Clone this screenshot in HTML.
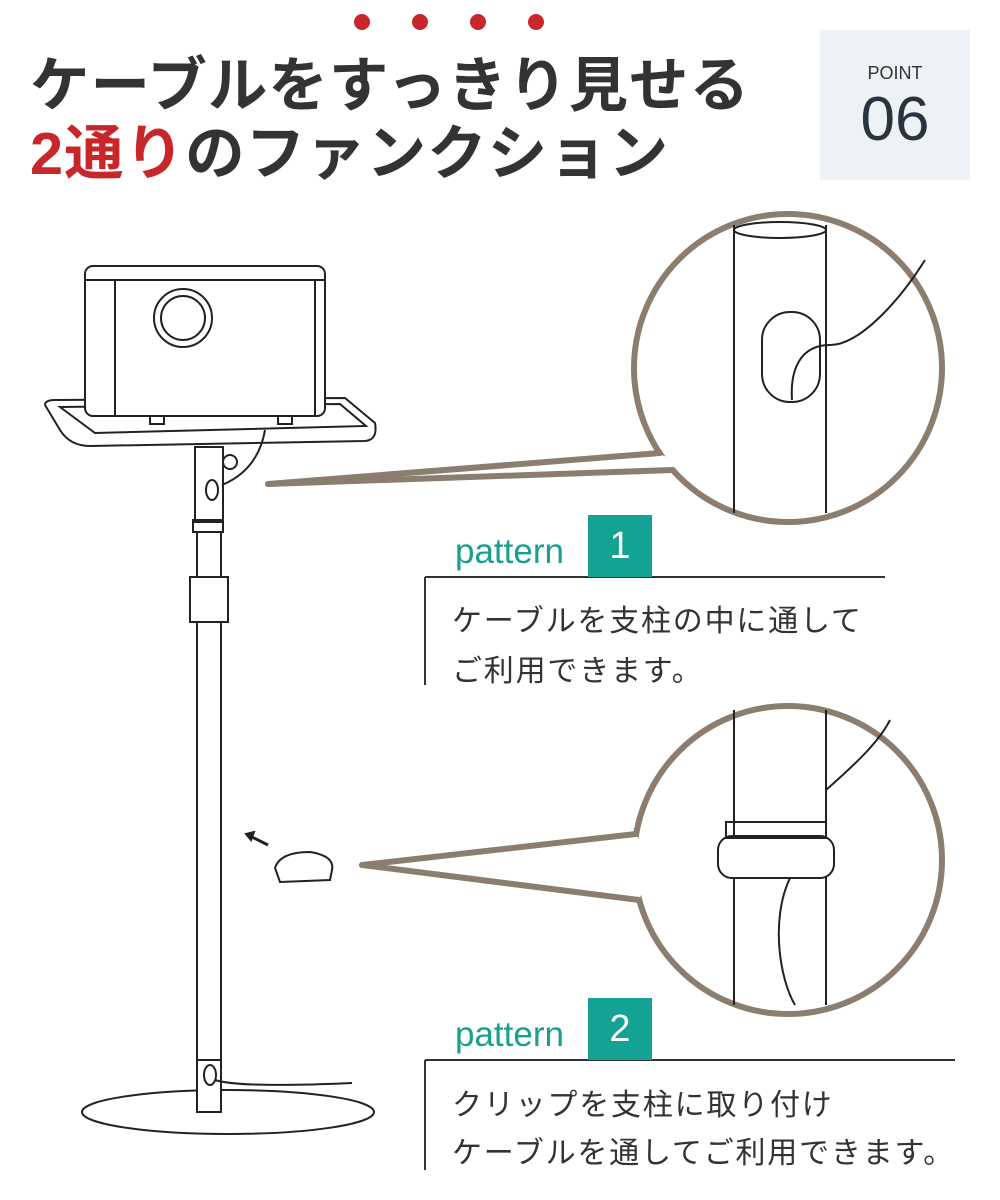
<!DOCTYPE html><html><head><meta charset="utf-8"><style>
body{margin:0;width:1000px;height:1200px;background:#fff;position:relative;overflow:hidden;font-family:"Liberation Sans","Noto Sans CJK JP",sans-serif}
.t{position:absolute;font-weight:bold;font-size:59.5px;color:#333;letter-spacing:1px;white-space:nowrap}
.p{position:absolute;color:#17a08f;font-size:35px}
.b{position:absolute;background:#13a294;color:#fff;font-size:38px;text-align:center;width:64px;height:62px;line-height:62px}
.x{position:absolute;font-size:30px;color:#333;white-space:nowrap;letter-spacing:1.8px}
</style></head><body>
<svg width="1000" height="1200" style="position:absolute;left:0;top:0">
<g fill="#c9262c"><circle cx="362" cy="22" r="8"/><circle cx="420" cy="22" r="8"/><circle cx="478" cy="22" r="8"/><circle cx="536" cy="22" r="8"/></g>
<rect x="820" y="30" width="150" height="150" fill="#eef1f5"/>
<g stroke="#8b7d6f" stroke-width="6" fill="#fff">
<circle cx="788" cy="368" r="154"/>
<circle cx="788" cy="860" r="154"/>
</g>
<g fill="#fff"><polygon points="268,484 659,454 680,462 672,470"/><polygon points="362,865 637,835 648,865 640,899"/></g>
<g stroke="#8b7d6f" stroke-width="6" stroke-linecap="round" fill="none">
<line x1="268" y1="484" x2="660" y2="453"/><line x1="268" y1="484" x2="673" y2="470"/>
<line x1="362" y1="865" x2="636" y2="834"/><line x1="362" y1="865" x2="639" y2="900"/>
</g>
<g fill="none" stroke="#222" stroke-width="2">
<line x1="734" y1="225" x2="734" y2="513"/><line x1="826" y1="225" x2="826" y2="513"/>
<ellipse cx="780" cy="230" rx="46" ry="8"/>
<rect x="762" y="312" width="58" height="90" rx="28"/>
<path d="M792 400 C790 370 800 345 830 345 S900 300 925 260"/>
<line x1="734" y1="710" x2="734" y2="1005"/><line x1="826" y1="710" x2="826" y2="1005"/>
<rect x="718" y="836" width="116" height="42" rx="14" fill="#fff"/><rect x="726" y="822" width="100" height="16"/>
<path d="M826 790 C860 760 880 740 890 720 M790 878 C770 920 780 980 795 1005"/>
<path d="M45 405 Q45 400 55 400 L345 398 L375 423 Q378 440 365 441 L90 446 Q70 446 60 430 Z" fill="#fff"/>
<path d="M60 407 L340 404 L366 426 L95 433 Z"/>
<rect x="85" y="266" width="240" height="150" rx="8" fill="#fff"/><line x1="85" y1="280" x2="325" y2="280"/><line x1="115" y1="280" x2="115" y2="416"/><line x1="315" y1="280" x2="315" y2="416"/>
<circle cx="183" cy="318" r="29"/><circle cx="183" cy="318" r="22"/>
<rect x="150" y="416" width="14" height="8"/><rect x="278" y="416" width="14" height="8"/>
<rect x="195" y="447" width="28" height="75"/><rect x="193" y="520" width="30" height="12"/>
<rect x="197" y="532" width="24" height="45"/><rect x="190" y="577" width="38" height="45"/>
<rect x="197" y="622" width="24" height="490"/>
<circle cx="230" cy="462" r="7"/><ellipse cx="212" cy="490" rx="6" ry="10"/>
<path d="M265 430 Q258 470 222 485"/>
<ellipse cx="228" cy="1112" rx="146" ry="22" fill="#fff"/><rect x="197" y="1060" width="24" height="52" fill="#fff"/>
<ellipse cx="210" cy="1075" rx="6" ry="10"/><path d="M215 1080 Q240 1088 352 1083"/>
<path d="M275 868 Q280 852 310 852 Q335 856 332 870 L330 880 L280 882 Z"/>
<path d="M268 845 L250 836" stroke-width="3"/><path d="M246 834 l8 -2 l-3 8 z" fill="#222"/>
</g>
<g stroke="#333" stroke-width="2"><line x1="425" y1="577" x2="885" y2="577"/><line x1="425" y1="577" x2="425" y2="685"/>
<line x1="425" y1="1060" x2="955" y2="1060"/><line x1="425" y1="1060" x2="425" y2="1170"/></g>
</svg>
<div class="t" style="left:30px;top:38px">ケーブルをすっきり見せる</div>
<div class="t" style="left:30px;top:106px"><span style="color:#c9262c">2通り</span>のファンクション</div>
<div style="position:absolute;left:820px;top:63px;width:150px;text-align:center;font-size:18px;color:#333">POINT</div>
<div style="position:absolute;left:820px;top:84px;width:150px;text-align:center;font-size:62px;color:#2a3340">06</div>
<div class="p" style="left:455px;top:532px">pattern</div><div class="b" style="left:588px;top:515px">1</div>
<div class="x" style="left:452px;top:596px">ケーブルを支柱の中に通して</div>
<div class="x" style="left:452px;top:646px">ご利用できます。</div>
<div class="p" style="left:455px;top:1015px">pattern</div><div class="b" style="left:588px;top:998px">2</div>
<div class="x" style="left:452px;top:1080px">クリップを支柱に取り付け</div>
<div class="x" style="left:452px;top:1128px">ケーブルを通してご利用できます。</div>
</body></html>
